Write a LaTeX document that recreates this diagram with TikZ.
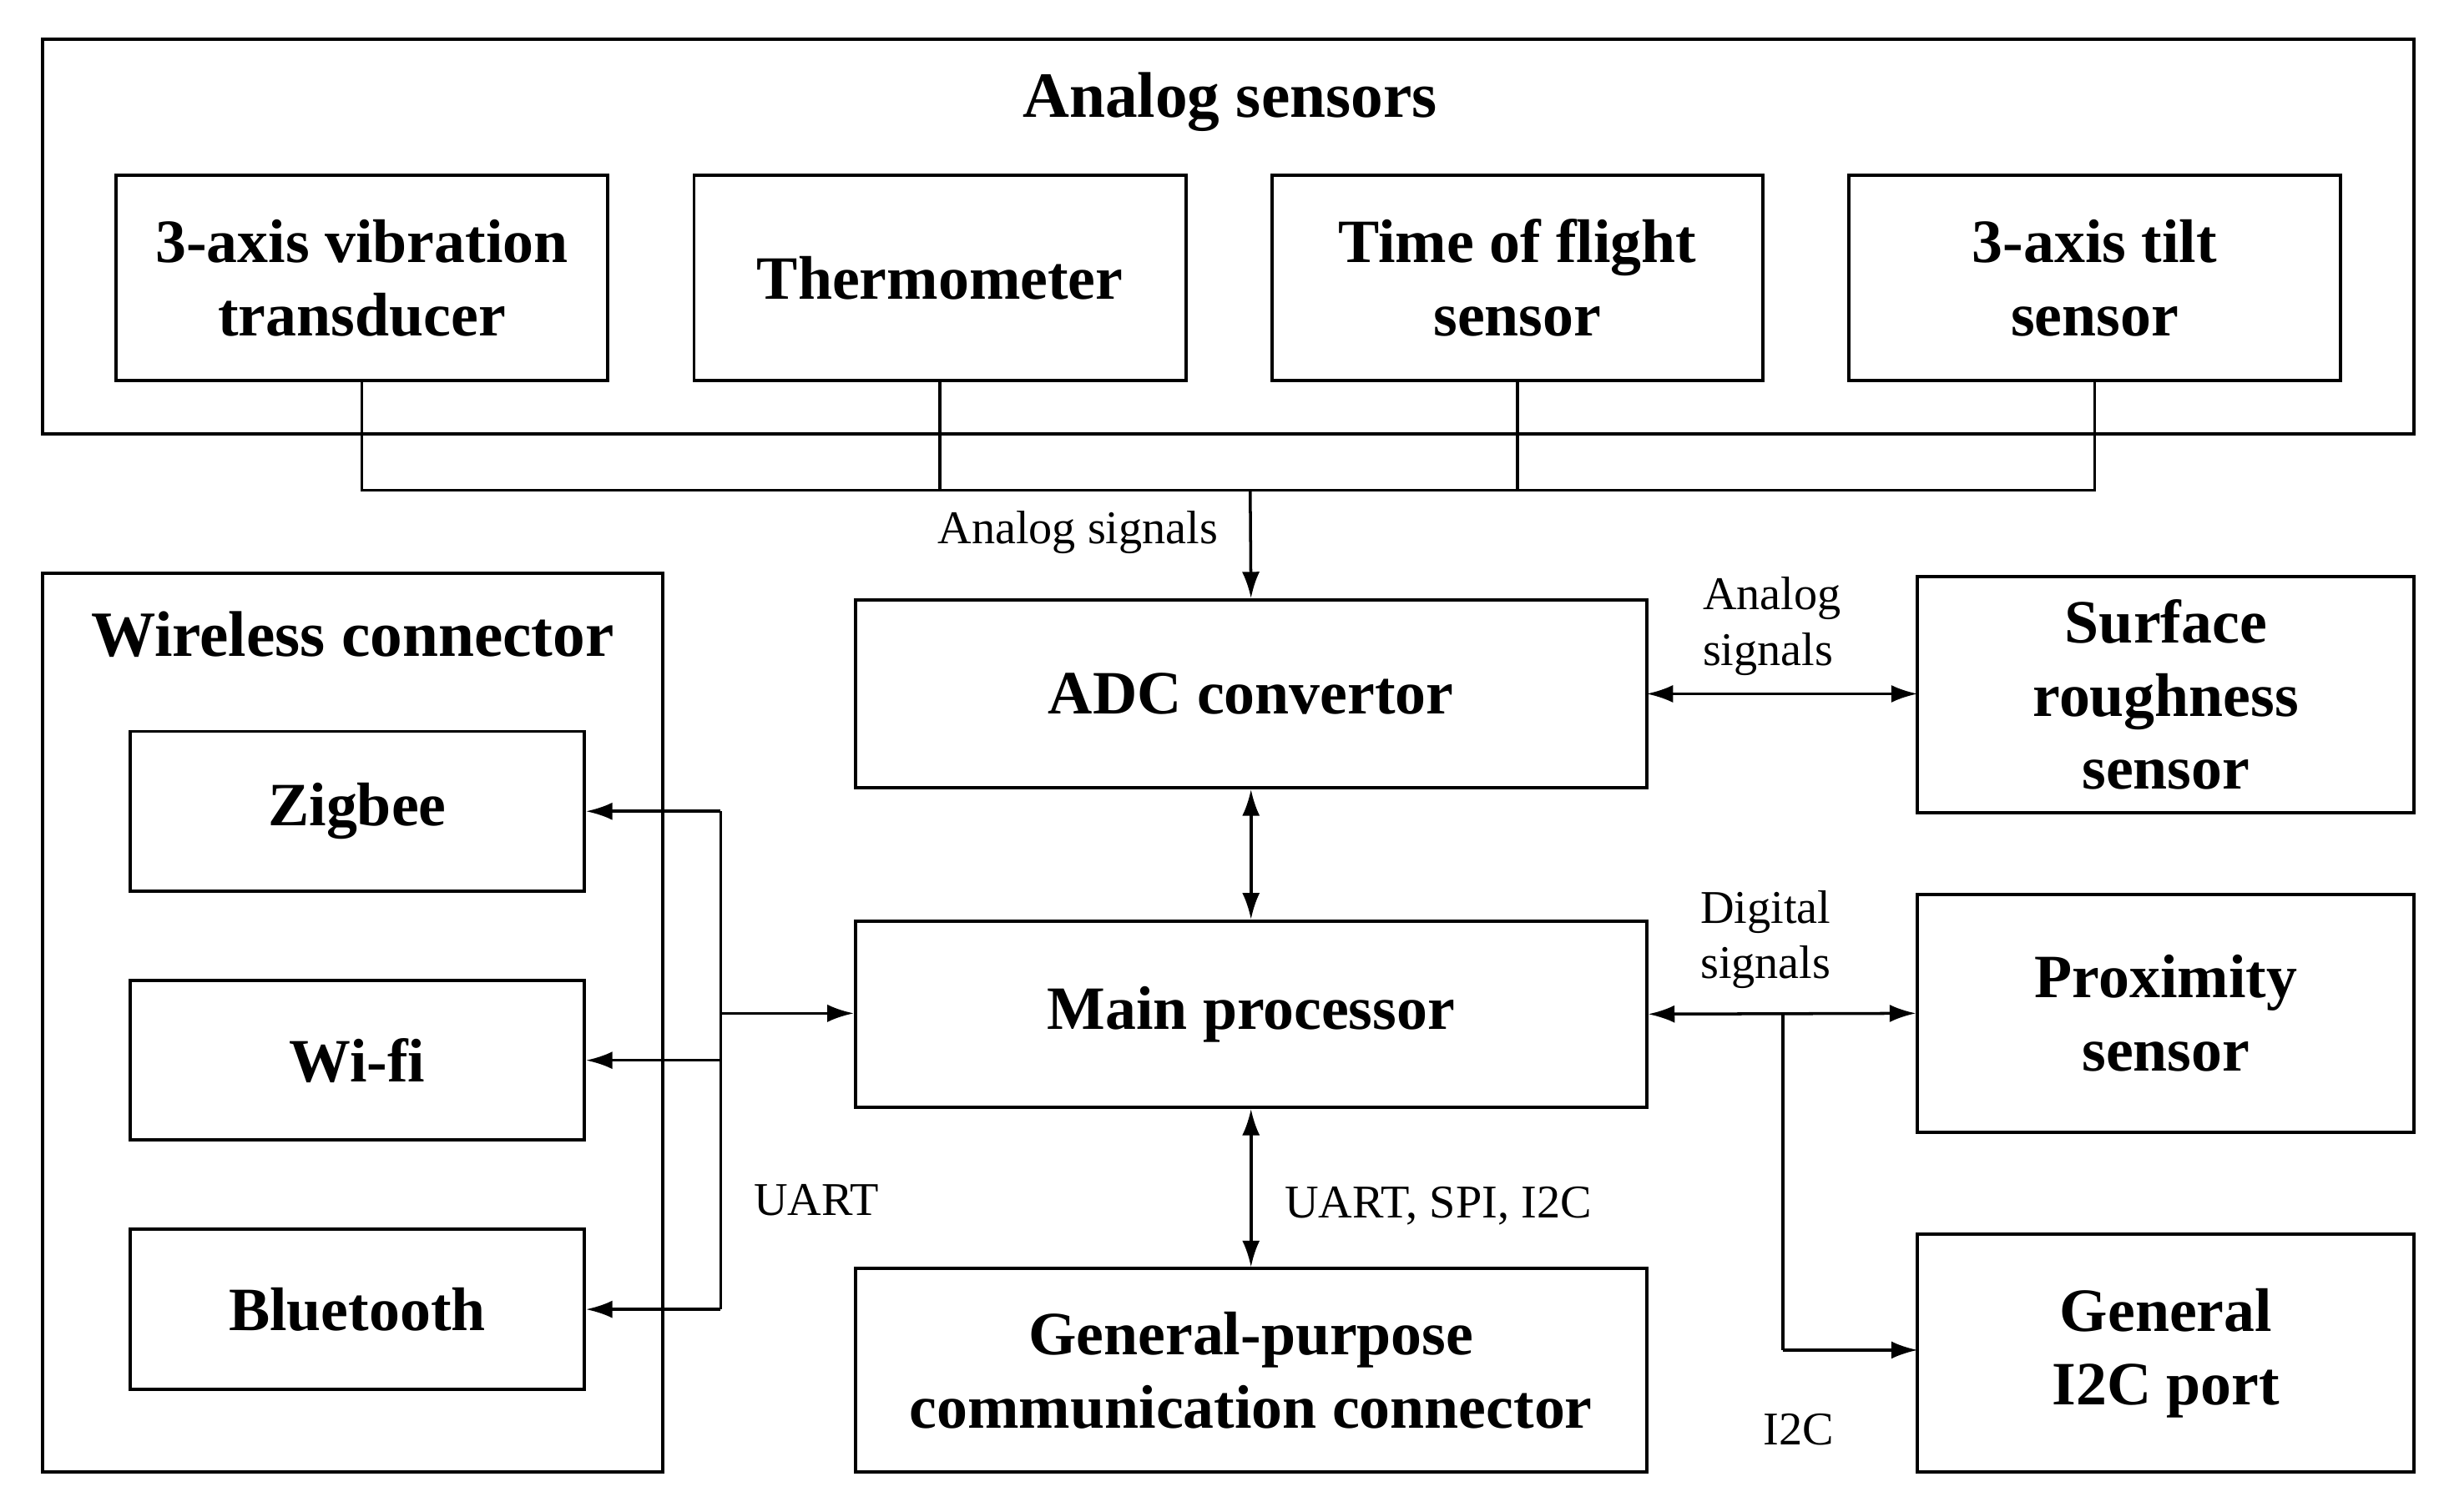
\documentclass[tikz,border=0pt]{standalone}
\usepackage{fontspec}
\setmainfont{Liberation Serif}
\usetikzlibrary{arrows.meta}
\begin{document}
\begin{tikzpicture}[x=0.01877cm,y=-0.01877cm,
 box/.style={draw,line width=1.1pt,align=center,font=\fontsize{21}{25}\selectfont\bfseries,inner sep=0pt},
 lbl/.style={font=\fontsize{16}{19}\selectfont,align=left,inner sep=0pt},
 ar/.style={-{Latex[length=9pt,width=6pt]},line width=1pt},
 dar/.style={{Latex[length=9pt,width=6pt]}-{Latex[length=9pt,width=6pt]},line width=1pt},
 ln/.style={line width=1pt}]
\useasboundingbox (0,0) rectangle (1560,965);
\newcommand{\bx}[6]{\node[box,minimum width=(#4-#2)*0.01877cm,minimum height=(#5-#3)*0.01877cm] (#1) at ({(#2+#4)/2},{(#3+#5)/2}) {#6};}
\bx{outer}{27}{25}{1541}{277}{}
\node[font=\fontsize{22}{26}\selectfont\bfseries] (t1) at (785,65) {Analog sensors};
\bx{s1}{74}{112}{388}{243}{3-axis vibration\\transducer}
\bx{s2}{443}{112}{757}{243}{Thermometer}
\bx{s3}{812}{112}{1125}{243}{Time of flight\\sensor}
\bx{s4}{1180}{112}{1494}{243}{3-axis tilt\\sensor}
\bx{adc}{546}{383}{1051}{503}{ADC convertor}
\bx{mp}{546}{588}{1051}{707}{Main processor}
\bx{gp}{546}{810}{1051}{940}{General-purpose\\communication connector}
\bx{wl}{27}{366}{423}{940}{}
\node[font=\fontsize{22}{26}\selectfont\bfseries] (t2) at (225,405) {Wireless connector};
\bx{zb}{83}{467}{373}{569}{Zigbee}
\bx{wf}{83}{626}{373}{728}{Wi-fi}
\bx{bt}{83}{785}{373}{887}{Bluetooth}
\bx{sr}{1224}{368}{1541}{519}{Surface\\roughness\\sensor}
\bx{px}{1224}{571}{1541}{723}{Proximity\\sensor}
\bx{ic}{1224}{788}{1541}{940}{General\\I2C port}
% analog bus
\coordinate (b0) at (798,313);
\draw[ln] (s1.south) |- (b0) -| (s4.south);
\draw[ln] (s2.south) -- (s2.south|-b0);
\draw[ln] (s3.south) -- (s3.south|-b0);
\draw[ar] (b0) -- (adc.north);
\node[lbl] (l1) at (688,340) {Analog signals};
\draw[dar] (adc.south) -- (mp.north);
\draw[dar] (mp.south) -- (gp.north);
\node[lbl] (l2) at (918,770) {UART, SPI, I2C};
% wireless bus
\coordinate (w1) at (460,518);
\coordinate (w3) at (460,836);
\coordinate (w2) at (460,647);
\draw[ln] (w1) -- (w3);
\draw[ar] (w1) -- (w1-|zb.east);
\draw[ar] (460,677) -- (wf.east);
\draw[ar] (w3) -- (w3-|bt.east);
\draw[ar] (w2) -- (w2-|mp.west);
\node[lbl] (l3) at (521,766) {UART};
% right side
\draw[dar] (1051,443) -- (1224,443);
\node[lbl] (l4) at (1131,400) {Analog\\signals};
\draw[dar] (mp.east) -- (px.west);
\node[lbl] (l5) at (1127,600) {Digital\\signals};
\coordinate (d0) at (1138,647);
\draw[ln] (d0) -- (1138,862);
\draw[ar] (1138,862) -- (1224,862);
\node[lbl] (l6) at (1148,913) {I2C};
\end{tikzpicture}
\end{document}
